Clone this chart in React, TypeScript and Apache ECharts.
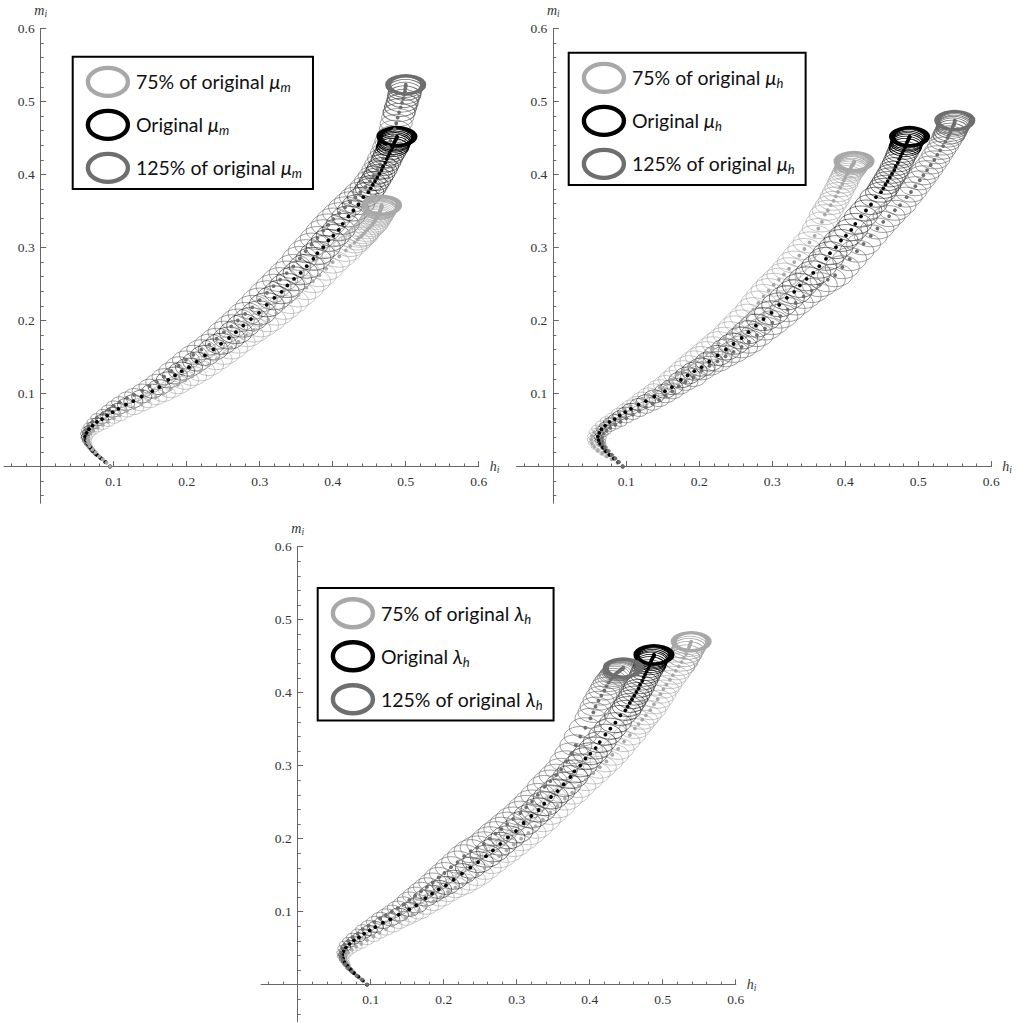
import React, { useEffect, useRef } from "react";
import * as echarts from "echarts";

type Pt = [number, number];

const majorTicks = [0.1, 0.2, 0.3, 0.4, 0.5, 0.6];
const minorTicks = [-0.04, -0.02, 0.02, 0.04, 0.06, 0.08, 0.12, 0.14, 0.16, 0.18, 0.22, 0.24, 0.26, 0.28, 0.32, 0.34, 0.36, 0.38, 0.42, 0.44, 0.46, 0.48, 0.52, 0.54, 0.56, 0.58];

// Ring sizes (pixels) by time step
const ringW = [2,3,3,4,5,5,6,7,8,9,10,11,12,13,14, 15,16,17,19,20,21,22,24,25,26,27,28,29,30,31,32,33,33,34,34,35,35,35,35,35,35,35,35,34,34,34,34,33,33,33,32,32,32,31, 31,31,31,31,31,31,31,31,31,31,32,32,32,32,32,32,33,33,34,34,35];
const ringH = [2,2,3,3,4,4,5,5,6,6,7,7,8,9,9, 10,11,12,13,13,14,15,16,17,18,18,19,20,21,21,22,23,23,23,24,24,24,24,24,24,24,24,23,23,23,22,22,22,21,21,21,20,20,20, 20,19,19,19,19,18,18,18,18,18,18,18,18,18,18,18,18,18,18,18,18];

const original: Pt[] = [[.095,0],[.089,.006],[.083,.011],[.077,.016],[.072,.021],[.068,.026],[.064,.031],[.062,.036],[.061,.041],[.063,.046],[.066,.051],[.071,.056],[.077,.061],[.084,.065],[.091,.07],
[.0986,.0744],[.1063,.079],[.1168,.0849],[.1269,.0895],[.1383,.0959],[.1529,.1032],[.1625,.1087],[.1748,.1187],[.184,.1247],[.1931,.1306],[.2031,.1361],[.2136,.1438],[.225,.1521],[.2365,.1603],[.247,.168],[.258,.176],[.2674,.184],[.2775,.193],[.288,.2019],[.299,.2105],[.3095,.2215],[.32,.2311],[.33,.2393],[.3378,.248],[.347,.2571],[.3561,.2653],[.3644,.2744],[.3735,.2845],[.379,.2922],[.3872,.3005],[.3941,.3096],[.4009,.3164],[.4082,.3242],[.4137,.3324],[.4215,.3425],[.4283,.3507],[.4352,.3589],[.442,.3689],[.4489,.3758],
[.452,.381],[.455,.386],[.458,.391],[.461,.396],[.464,.401],[.467,.406],[.469,.411],[.472,.416],[.474,.421],[.476,.425],[.478,.429],[.48,.433],[.482,.437],[.483,.44],[.484,.443],[.485,.445],[.486,.447],[.487,.449],[.4875,.45],[.488,.451],[.488,.452]];

const muM75: Pt[] = [[.095,0],[.09,.005],[.085,.01],[.08,.014],[.075,.019],[.071,.023],[.067,.028],[.065,.032],[.064,.036],[.065,.04],[.068,.045],[.072,.049],[.078,.053],[.085,.057],[.092,.061],
[.1,.066],[.108,.07],[.118,.076],[.128,.08],[.138,.085],[.148,.09],[.158,.095],[.168,.1],[.178,.106],[.188,.112],[.198,.118],[.208,.124],[.219,.131],[.23,.139],[.241,.147],[.251,.155],[.261,.163],[.271,.171],[.282,.18],[.292,.187],[.302,.194],[.312,.201],[.323,.21],[.333,.218],[.343,.226],[.353,.235],[.364,.245],[.373,.254],[.382,.262],[.391,.271],[.4,.28],[.409,.288],[.418,.296],[.424,.302],[.43,.307],[.434,.311],[.437,.314],[.44,.316],[.442,.319],
[.445,.322],[.448,.325],[.451,.328],[.454,.331],[.456,.334],[.458,.337],[.46,.34],[.461,.342],[.462,.344],[.463,.346],[.464,.348],[.465,.35],[.465,.351],[.466,.352],[.466,.353],[.466,.354],[.467,.355],[.467,.356],[.467,.357],[.467,.3575],[.467,.358]];

const muM125: Pt[] = [[.095,0],[.088,.006],[.081,.012],[.075,.017],[.07,.023],[.066,.028],[.062,.034],[.06,.039],[.06,.045],[.062,.05],[.066,.055],[.071,.061],[.077,.067],[.085,.072],[.093,.078],
[.1,.083],[.108,.088],[.118,.094],[.128,.098],[.139,.104],[.149,.11],[.159,.116],[.169,.123],[.179,.131],[.189,.138],[.199,.146],[.209,.153],[.22,.16],[.231,.167],[.241,.175],[.251,.184],[.261,.192],[.27,.2],[.28,.209],[.29,.218],[.3,.228],[.31,.238],[.319,.247],[.328,.256],[.337,.265],[.346,.274],[.355,.285],[.363,.295],[.371,.304],[.379,.313],[.387,.323],[.394,.331],[.401,.339],[.409,.347],[.417,.355],[.424,.362],[.431,.369],[.438,.376],[.445,.383],
[.451,.391],[.456,.398],[.461,.406],[.465,.414],[.469,.422],[.473,.43],[.476,.438],[.479,.446],[.482,.454],[.485,.462],[.487,.47],[.489,.478],[.491,.485],[.493,.492],[.495,.498],[.4965,.504],[.498,.509],[.499,.514],[.4995,.518],[.5,.521],[.5,.523]];

const muH75: Pt[] = [[.095,0],[.088,.005],[.08,.01],[.073,.014],[.067,.018],[.061,.022],[.056,.027],[.053,.032],[.052,.037],[.053,.042],[.056,.047],[.06,.052],[.066,.057],[.073,.062],[.081,.067],
[.09,.073],[.098,.078],[.106,.083],[.114,.087],[.122,.093],[.13,.098],[.138,.103],[.146,.108],[.154,.113],[.162,.119],[.17,.126],[.178,.132],[.186,.138],[.194,.144],[.202,.15],[.21,.156],[.218,.162],[.226,.169],[.234,.175],[.242,.182],[.25,.19],[.258,.198],[.266,.206],[.274,.215],[.281,.224],[.288,.233],[.295,.241],[.302,.249],[.309,.256],[.316,.263],[.323,.271],[.33,.28],[.337,.289],[.344,.298],[.351,.307],[.358,.316],[.363,.326],[.368,.335],[.372,.345],
[.376,.351],[.38,.358],[.384,.364],[.387,.37],[.39,.376],[.393,.382],[.396,.387],[.398,.392],[.4,.396],[.402,.4],[.404,.403],[.406,.406],[.407,.408],[.408,.41],[.409,.412],[.41,.413],[.4105,.414],[.411,.415],[.4115,.416],[.412,.417],[.412,.418]];

const muH125: Pt[] = [[.095,0],[.09,.006],[.085,.011],[.08,.016],[.075,.021],[.071,.026],[.068,.031],[.067,.035],[.067,.04],[.069,.045],[.073,.049],[.078,.053],[.085,.057],[.092,.061],[.1,.066],
[.109,.071],[.118,.076],[.127,.081],[.136,.086],[.145,.091],[.154,.097],[.163,.103],[.172,.11],[.181,.116],[.192,.122],[.203,.131],[.214,.138],[.225,.144],[.236,.151],[.247,.157],[.258,.164],[.268,.171],[.279,.18],[.29,.189],[.3,.197],[.311,.206],[.321,.215],[.332,.224],[.343,.233],[.354,.241],[.365,.249],[.376,.256],[.386,.262],[.396,.273],[.406,.284],[.416,.295],[.425,.305],[.435,.316],[.444,.326],[.452,.335],[.46,.343],[.468,.351],[.475,.358],[.484,.369],
[.49,.376],[.496,.384],[.502,.392],[.507,.399],[.512,.406],[.517,.413],[.522,.42],[.526,.427],[.53,.433],[.534,.439],[.537,.445],[.54,.45],[.542,.454],[.544,.458],[.546,.462],[.547,.465],[.548,.467],[.549,.469],[.5495,.471],[.55,.473],[.55,.474]];

const lamH75: Pt[] = [[.095,0],[.09,.005],[.085,.009],[.08,.013],[.075,.018],[.071,.022],[.068,.027],[.066,.031],[.065,.035],[.066,.04],[.069,.044],[.074,.048],[.08,.052],[.087,.056],[.095,.061],
[.104,.066],[.112,.071],[.121,.076],[.13,.081],[.139,.086],[.148,.091],[.157,.096],[.166,.101],[.176,.108],[.186,.114],[.196,.12],[.206,.127],[.216,.133],[.226,.138],[.236,.144],[.246,.151],[.256,.16],[.266,.168],[.276,.176],[.286,.184],[.296,.192],[.306,.2],[.316,.208],[.326,.217],[.336,.226],[.346,.236],[.356,.245],[.366,.255],[.376,.263],[.385,.272],[.395,.281],[.405,.29],[.414,.298],[.423,.306],[.431,.315],[.439,.323],[.447,.333],[.455,.342],[.462,.351],
[.467,.357],[.472,.363],[.477,.369],[.483,.376],[.488,.384],[.493,.391],[.497,.398],[.501,.405],[.505,.411],[.51,.418],[.514,.424],[.518,.43],[.522,.436],[.526,.442],[.529,.448],[.532,.453],[.534,.458],[.536,.462],[.537,.465],[.538,.468],[.539,.47]];

const lamH125: Pt[] = [[.095,0],[.088,.007],[.081,.012],[.074,.018],[.069,.023],[.065,.028],[.061,.034],[.059,.039],[.059,.044],[.061,.05],[.064,.055],[.069,.06],[.075,.065],[.082,.07],[.089,.076],
[.097,.081],[.105,.086],[.113,.091],[.121,.095],[.129,.1],[.137,.105],[.145,.11],[.153,.116],[.161,.122],[.169,.128],[.177,.134],[.185,.14],[.193,.147],[.201,.153],[.21,.161],[.219,.168],[.228,.176],[.237,.183],[.246,.188],[.255,.193],[.263,.2],[.271,.207],[.279,.213],[.287,.22],[.295,.227],[.305,.235],[.313,.243],[.321,.251],[.329,.26],[.338,.271],[.346,.279],[.354,.287],[.361,.295],[.368,.306],[.375,.317],[.381,.328],[.387,.34],[.394,.352],[.401,.365],
[.405,.373],[.408,.381],[.412,.389],[.416,.396],[.42,.403],[.423,.409],[.426,.414],[.429,.418],[.432,.421],[.434,.424],[.436,.426],[.438,.428],[.44,.429],[.441,.43],[.442,.431],[.443,.432],[.444,.432],[.445,.433],[.445,.433],[.446,.434],[.446,.434]];

const LIGHT = "#a8a8a8";
const MID = "#6e6e6e";
const BLACK = "#000000";
const SERIF = "Liberation Serif";

const panels = [
  { left: 4.2, top: 28.5, legendLeft: 72.7, legendTop: 56.7, greek: "μ", sub: "m",
    lines: [
      { kind: "125% of original ", color: MID, pts: muM125 },
      { kind: "Original ", color: BLACK, pts: original },
      { kind: "75% of original ", color: LIGHT, pts: muM75 },
    ] },
  { left: 516.8, top: 28.5, legendLeft: 568.7, legendTop: 52.7, greek: "μ", sub: "h",
    lines: [
      { kind: "75% of original ", color: LIGHT, pts: muH75 },
      { kind: "Original ", color: BLACK, pts: original },
      { kind: "125% of original ", color: MID, pts: muH125 },
    ] },
  { left: 261.2, top: 546.7, legendLeft: 317.7, legendTop: 588, greek: "λ", sub: "h",
    lines: [
      { kind: "75% of original ", color: LIGHT, pts: lamH75 },
      { kind: "Original ", color: BLACK, pts: original },
      { kind: "125% of original ", color: MID, pts: lamH125 },
    ] },
];

const legendOrder = ["75% of original ", "Original ", "125% of original "];
const legendColor: Record<string, string> = { "75% of original ": LIGHT, "Original ": BLACK, "125% of original ": MID };
const ELLIPSE = "path://M0 14A20 14 0 1 1 40 14A20 14 0 1 1 0 14Z";
const SIZE = 474.5;
const ZERO_SHIFT = -36.5;

function buildOption() {
  const grid: any[] = [], xAxis: any[] = [], yAxis: any[] = [], series: any[] = [], legend: any[] = [];
  const tickLine = { lineStyle: { color: "#666", width: 1 } };
  const nameRich = {
    a: { fontFamily: SERIF, fontStyle: "italic", fontSize: 14, color: "#333" },
    b: { fontFamily: SERIF, fontStyle: "italic", fontSize: 9.5, color: "#333", verticalAlign: "bottom", padding: [6, 0, 0, 0] },
  };
  panels.forEach((p, g) => {
    grid.push({ left: p.left, top: p.top, width: SIZE, height: SIZE, containLabel: false, outerBoundsMode: "none" });
    const common = { type: "value", gridIndex: g, min: -0.05, max: 0.6, offset: ZERO_SHIFT, splitLine: { show: false }, axisLine: { show: true, onZero: false, ...tickLine } };
    const labelStyle = { fontFamily: SERIF, fontSize: 13.5, color: "#333", formatter: (v: number) => v.toFixed(1), customValues: majorTicks };
    const x0 = xAxis.length, y0 = yAxis.length;
    xAxis.push({ ...common, position: "bottom", name: "{a|h}{b|i}", nameLocation: "end", nameGap: 11, nameTextStyle: { rich: nameRich },
      axisTick: { inside: true, length: 5.5, customValues: majorTicks, ...tickLine }, axisLabel: { ...labelStyle, margin: 8 } });
    xAxis.push({ ...common, position: "bottom", axisTick: { inside: true, length: 3, customValues: minorTicks, ...tickLine }, axisLabel: { show: false } });
    yAxis.push({ ...common, position: "left", name: "{a|m}{b|i}", nameLocation: "end", nameGap: 10, nameTextStyle: { rich: nameRich, align: "center" },
      axisTick: { inside: true, length: 5.5, customValues: majorTicks, ...tickLine }, axisLabel: { ...labelStyle, margin: 6 } });
    yAxis.push({ ...common, position: "left", axisTick: { inside: true, length: 3, customValues: minorTicks, ...tickLine }, axisLabel: { show: false } });

    const label = (kind: string) => `${kind}${p.greek}${p.sub}`;
    p.lines.forEach((l) => {
      const name = label(l.kind);
      const width = l.color === BLACK ? 0.5 : 0.65;
      series.push({
        type: "scatter", name, xAxisIndex: x0, yAxisIndex: y0, silent: true, symbol: "circle",
        symbolSize: (_v: any, params: any) => [ringW[params.dataIndex], ringH[params.dataIndex]],
        data: l.pts.map((pt, i) => ({ value: pt, itemStyle: { color: "transparent", borderColor: l.color, opacity: 1, borderWidth: i === 74 ? 4.4 : i >= 66 ? 1 : width } })),
        z: 2,
      });
      series.push({
        type: "scatter", name, xAxisIndex: x0, yAxisIndex: y0, silent: true, symbol: "circle", symbolSize: 3.8,
        itemStyle: { color: l.color, opacity: 1 }, data: l.pts, z: 3,
      });
    });

    legend.push({
      left: p.legendLeft, top: p.legendTop, orient: "vertical", selectedMode: false, symbolKeepAspect: false,
      backgroundColor: "#fff", borderColor: "#000", borderWidth: 2, padding: [9, 11, 5, 13],
      itemWidth: 40, itemHeight: 28, itemGap: 10.6,
      data: legendOrder.map((k) => ({ name: label(k), icon: ELLIPSE, itemStyle: { color: "transparent", borderColor: legendColor[k], borderWidth: 4.4, opacity: 1 } })),
      formatter: (n: string) => {
        const k = legendOrder.find((o) => n.startsWith(o)) as string;
        return `{t|${k}}{g|${p.greek}}{s|${p.sub}}`;
      },
      textStyle: {
        rich: {
          t: { fontFamily: "Lato", fontSize: 19.5, lineHeight: 24, color: "#111", padding: [0, 0, 0, 3] },
          g: { fontFamily: "Lato", fontStyle: "italic", fontSize: 19.5, lineHeight: 24, color: "#111" },
          s: { fontFamily: "Lato", fontStyle: "italic", fontSize: 13, lineHeight: 14, color: "#111", verticalAlign: "bottom" },
        },
      },
    });
  });
  return { animation: false, backgroundColor: "#fff", grid, xAxis, yAxis, series, legend };
}

export default function App() {
  const ref = useRef<HTMLDivElement>(null);
  useEffect(() => {
    const chart = echarts.init(ref.current as HTMLDivElement, undefined, { renderer: "svg" });
    chart.setOption(buildOption() as any);
    return () => chart.dispose();
  }, []);
  return <div ref={ref} style={{ position: "absolute", left: 0, top: 0, width: 1020, height: 1023 }} />;
}
